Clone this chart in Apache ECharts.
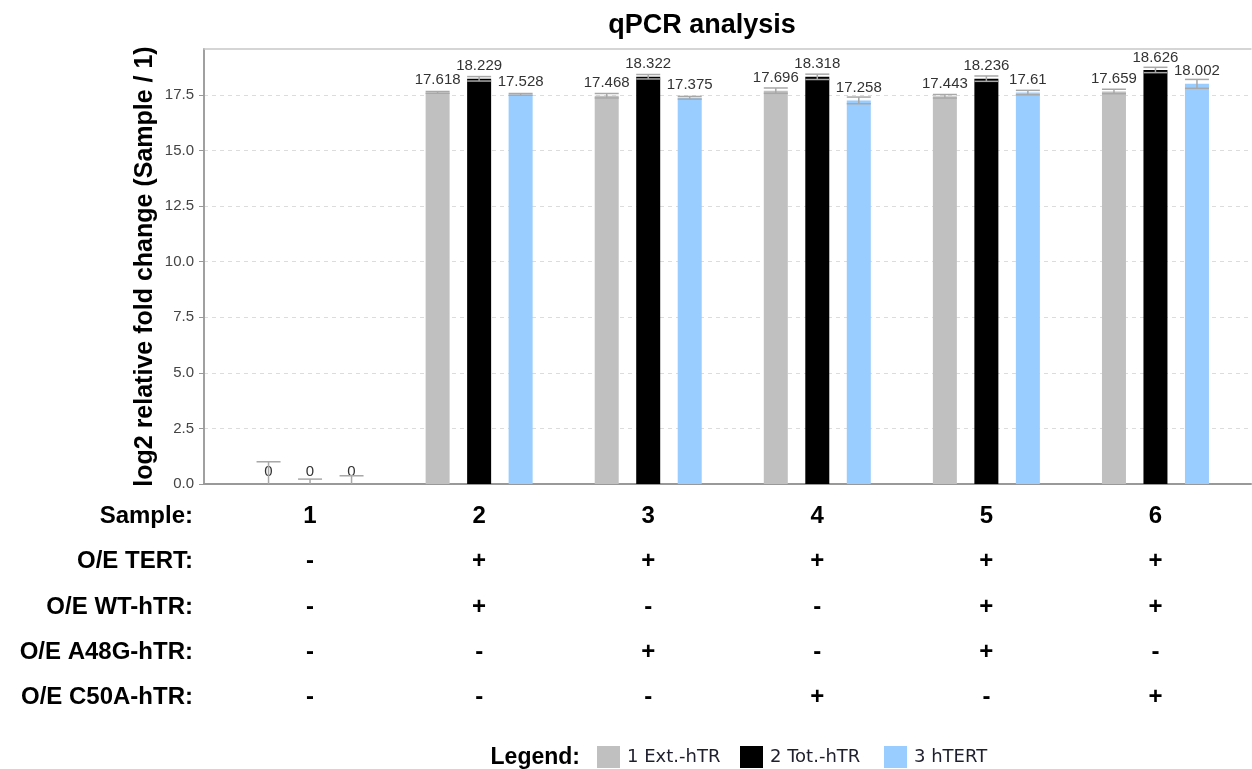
<!DOCTYPE html>
<html>
<head>
<meta charset="utf-8">
<script src="https://cdn.jsdelivr.net/npm/echarts@6/dist/echarts.min.js"></script>
<style>
html,body{margin:0;padding:0;background:#fff;}
#chart{width:1252px;height:769px;}
</style>
</head>
<body>
<div id="chart"></div>
<script>
// ---- data ----
var categories = ['1', '2', '3', '4', '5', '6'];
var seriesNames = ['1 Ext.-hTR', '2 Tot.-hTR', '3 hTERT'];
var extValues = [0, 17.618, 17.468, 17.696, 17.443, 17.659];
var totValues = [0, 18.229, 18.322, 18.318, 18.236, 18.626];
var htertValues = [0, 17.528, 17.375, 17.258, 17.61, 18.002];
var extErr = [1.0, 0.04, 0.1, 0.12, 0.08, 0.1];
var totErr = [0.22, 0.1, 0.1, 0.12, 0.12, 0.12];
var htertErr = [0.37, 0.04, 0.06, 0.15, 0.1, 0.2];
var yTicks = [0, 2.5, 5, 7.5, 10, 12.5, 15, 17.5];
var rowHeaders = ['Sample:', 'O/E TERT:', 'O/E WT-hTR:', 'O/E A48G-hTR:', 'O/E C50A-hTR:'];
var rowTERT = ['-', '+', '+', '+', '+', '+'];
var rowWT = ['-', '+', '-', '-', '+', '+'];
var rowA48G = ['-', '-', '+', '-', '+', '-'];
var rowC50A = ['-', '-', '-', '+', '-', '+'];
var titleText = 'qPCR analysis';
var yAxisTitle = 'log2 relative fold change (Sample / 1)';
var legendTitle = 'Legend:';

// ---- styling ----
var colors = ['#c0c0c0', '#000000', '#99ccff'];
var FONT = '"Liberation Sans", Arial, sans-serif';
var Y_MAX = 19.57;
var PLOT_TOP = 49, PLOT_BOTTOM = 769 - 484;
var BAR_W = 24, BAR_STEP = 41.5;
var offsets = [-BAR_STEP, 0, BAR_STEP];
var legendLefts = [597, 740, 884];

var valueSets = [extValues, totValues, htertValues];
var errSets = [extErr, totErr, htertErr];
var tableRows = [rowTERT, rowWT, rowA48G, rowC50A];

var chart = echarts.init(document.getElementById('chart'), null, {renderer: 'canvas'});

var barSeries = seriesNames.map(function (name, s) {
  return {
    name: name,
    type: 'bar',
    xAxisIndex: 2,
    yAxisIndex: 1,
    data: valueSets[s],
    barWidth: BAR_W,
    barGap: ((BAR_STEP - BAR_W) / BAR_W * 100) + '%',
    itemStyle: {color: colors[s]},
    label: {
      show: true,
      position: 'top',
      distance: 5,
      color: '#333',
      fontFamily: FONT,
      fontSize: 15,
      formatter: function (p) { return String(p.value); }
    },
    z: 2
  };
});

var errData = [];
for (var s = 0; s < 3; s++) {
  for (var i = 0; i < categories.length; i++) {
    errData.push([i, valueSets[s][i], errSets[s][i], s]);
  }
}

var errorSeries = {
  type: 'custom',
  xAxisIndex: 2,
  yAxisIndex: 1,
  data: errData,
  z: 5,
  silent: true,
  renderItem: function (params, api) {
    var ci = api.value(0), v = api.value(1), e = api.value(2), s = api.value(3);
    var lo = Math.max(0, v - e), hi = v + e;
    var pHi = api.coord([ci, hi]);
    var pLo = api.coord([ci, lo]);
    var x = pHi[0] + offsets[s];
    var half = BAR_W / 2;
    var style = {stroke: '#a8a8a8', lineWidth: 1.5};
    var children = [
      {type: 'line', shape: {x1: x, y1: pHi[1], x2: x, y2: pLo[1]}, style: style},
      {type: 'line', shape: {x1: x - half, y1: pHi[1], x2: x + half, y2: pHi[1]}, style: style}
    ];
    if (lo > 0) {
      children.push({type: 'line', shape: {x1: x - half, y1: pLo[1], x2: x + half, y2: pLo[1]}, style: style});
    }
    return {type: 'group', children: children};
  }
};

var graphics = [];
rowHeaders.forEach(function (h, r) {
  graphics.push({
    type: 'text',
    x: 193,
    y: 516.5 + 45.2 * r,
    style: {
      text: h,
      fill: '#000',
      font: 'bold 24px ' + FONT,
      textAlign: 'right',
      textVerticalAlign: 'middle'
    }
  });
});
graphics.push({
  type: 'text',
  x: 580,
  y: 758,
  style: {
    text: legendTitle,
    fill: '#000',
    font: 'bold 23px ' + FONT,
    textAlign: 'right',
    textVerticalAlign: 'middle'
  }
});

var legends = seriesNames.map(function (name, s) {
  return {
    data: [name],
    left: legendLefts[s],
    top: 746,
    itemWidth: 23,
    itemHeight: 22,
    icon: 'rect',
    padding: 0,
    textStyle: {fontFamily: '"DejaVu Sans", Verdana, sans-serif', fontSize: 18, color: '#1e1e2e', padding: [0, 0, 0, 2]}
  };
});

var option = {
  backgroundColor: '#fff',
  animation: false,
  title: {
    text: titleText,
    left: 697,
    top: 7,
    textAlign: 'center',
    textStyle: {fontFamily: FONT, fontWeight: 'bold', fontSize: 27, color: '#000'}
  },
  legend: legends,
  grid: [
    {left: 204, right: 1, top: PLOT_TOP, bottom: PLOT_BOTTOM},
    {left: 225.5, right: 12, top: PLOT_TOP, bottom: PLOT_BOTTOM}
  ],
  xAxis: [
    {
      gridIndex: 0, type: 'value', min: 0, max: 1, position: 'bottom',
      axisLine: {show: true, lineStyle: {color: '#999', width: 2}},
      axisTick: {show: false}, axisLabel: {show: false}, splitLine: {show: false}
    },
    {
      gridIndex: 0, type: 'value', min: 0, max: 1, position: 'top',
      axisLine: {show: true, lineStyle: {color: '#c8c8c8', width: 1.5}},
      axisTick: {show: false}, axisLabel: {show: false}, splitLine: {show: false}
    },
    {
      gridIndex: 1, type: 'category', data: categories,
      axisLine: {show: false}, axisTick: {show: false}, splitLine: {show: false},
      axisLabel: {
        show: true,
        margin: 10,
        interval: 0,
        lineHeight: 45.2,
        fontFamily: FONT,
        fontWeight: 'bold',
        fontSize: 24,
        color: '#000',
        formatter: function (val, idx) {
          var lines = [val];
          tableRows.forEach(function (row) { lines.push(row[idx]); });
          return lines.join('\n');
        }
      }
    }
  ],
  yAxis: [
    {
      gridIndex: 0, type: 'value', min: 0, max: Y_MAX,
      name: yAxisTitle,
      nameLocation: 'middle',
      nameGap: 46,
      nameMoveOverlap: false,
      nameTextStyle: {fontFamily: FONT, fontWeight: 'bold', fontSize: 25, color: '#000'},
      axisLine: {show: true, lineStyle: {color: '#a0a0a0', width: 2}},
      axisTick: {show: true, customValues: yTicks, length: 5, lineStyle: {color: '#999'}},
      axisLabel: {show: true, customValues: yTicks, margin: 10, fontFamily: FONT, fontSize: 15, color: '#444',
        formatter: function (v) { return v.toFixed(1); }},
      splitLine: {show: true, lineStyle: {color: '#dcdcdc', type: [4, 4], width: 1}},
      interval: 2.5
    },
    {
      gridIndex: 1, type: 'value', min: 0, max: Y_MAX,
      show: false, splitLine: {show: false}
    }
  ],
  graphic: graphics,
  series: barSeries.concat([errorSeries])
};

chart.setOption(option);
</script>
</body>
</html>
